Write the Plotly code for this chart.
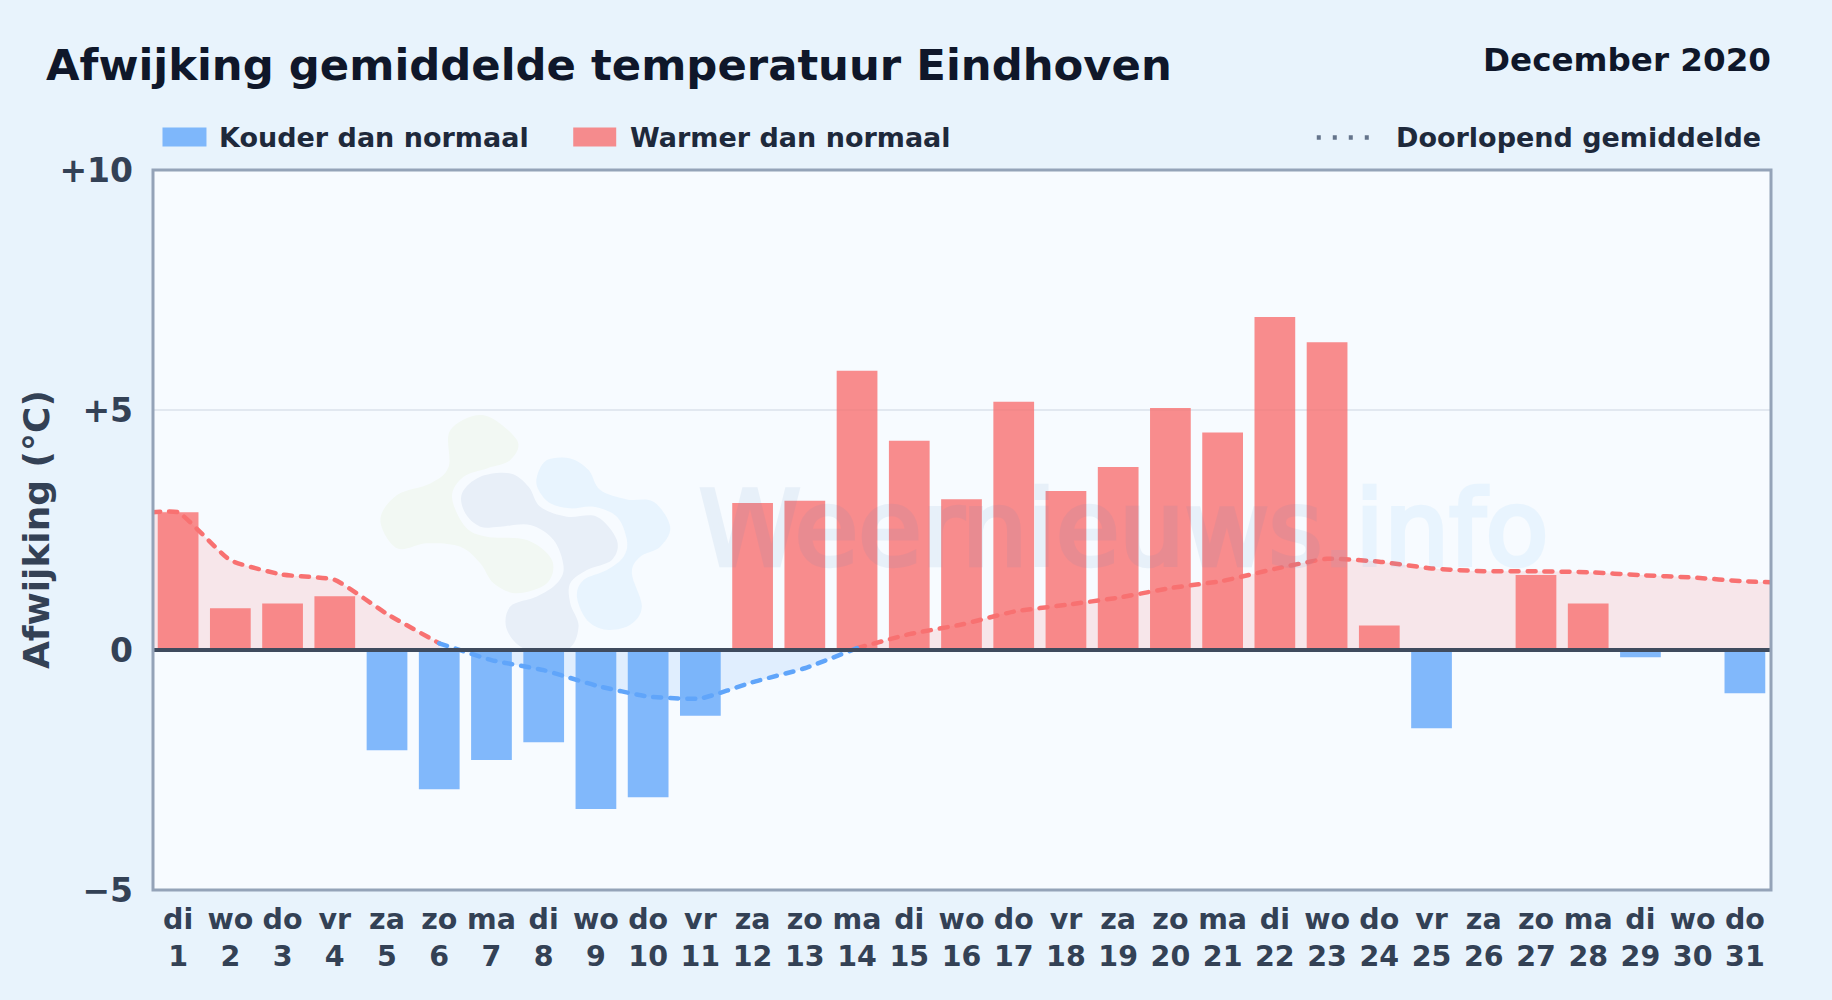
import plotly.graph_objects as go

W, H = 1832, 1000
PLOT_L, PLOT_R, PLOT_T, PLOT_B = 151.5, 1771.5, 169.5, 890.5
BORDER_L = 152.5

days = list(range(1, 32))
weekdays = ["di", "wo", "do", "vr", "za", "zo", "ma", "di", "wo", "do", "vr", "za", "zo", "ma", "di", "wo",
            "do", "vr", "za", "zo", "ma", "di", "wo", "do", "vr", "za", "zo", "ma", "di", "wo", "do"]
deviation = [2.87, 0.87, 0.97, 1.12, -2.09, -2.90, -2.29, -1.92, -3.31, -3.07, -1.37, 3.06, 3.11, 5.82, 4.36, 3.14,
             5.17, 3.31, 3.81, 5.04, 4.53, 6.94, 6.41, 0.51, -1.63, 0.0, 1.56, 0.97, -0.15, 0.0, -0.90]
running_days = [0.5] + days + [31.5]
running_mean = [2.87, 2.87, 1.87, 1.57, 1.46, 0.75, 0.14, -0.21, -0.42, -0.74, -0.97, -1.01, -0.67, -0.38, 0.04, 0.33,
                0.53, 0.80, 0.94, 1.09, 1.29, 1.44, 1.69, 1.90, 1.84, 1.70, 1.64, 1.64, 1.62, 1.56, 1.51, 1.43, 1.41]
warm_spans = [(0, 7), (14, 33)]
cold_spans = [(6, 15)]
y_ticks = [-5, 0, 5, 10]
y_labels = ["\u22125", "0", "+5", "+10"]

FONT = "DejaVu Sans"
RED = "#f87171"
BLUE = "#60a5fa"
INK = "#334155"
LEGEND_INK = "#1e293b"


def px(x):
    return (x - PLOT_L) / (PLOT_R - PLOT_L)


def py(y):
    return (PLOT_B - y) / (PLOT_B - PLOT_T)


def blob(points):
    n = len(points)
    path = f"M{px(points[0][0]):.5f},{py(points[0][1]):.5f}"
    for i in range(n):
        p0, p1, p2, p3 = points[i - 1], points[i], points[(i + 1) % n], points[(i + 2) % n]
        c1 = (p1[0] + (p2[0] - p0[0]) / 6, p1[1] + (p2[1] - p0[1]) / 6)
        c2 = (p2[0] - (p3[0] - p1[0]) / 6, p2[1] - (p3[1] - p1[1]) / 6)
        path += (f" C{px(c1[0]):.5f},{py(c1[1]):.5f} {px(c2[0]):.5f},{py(c2[1]):.5f} "
                 f"{px(p2[0]):.5f},{py(p2[1]):.5f}")
    return path + " Z"


def logo(zoomed):
    return [(340 + a / 3, 380 + b / 3) for a, b in zoomed]


green_blob = logo([(330, 150), (430, 105), (530, 180), (510, 240), (440, 265), (370, 290), (335, 350), (375, 440),
                   (440, 470), (560, 480), (635, 540), (620, 610), (530, 640), (460, 610), (420, 550), (360, 500),
                   (260, 490), (170, 505), (120, 420), (170, 345), (270, 310), (325, 260)])
dark_blob = logo([(365, 340), (420, 290), (510, 280), (565, 320), (600, 380), (680, 410), (770, 410), (830, 480),
                  (815, 540), (740, 570), (690, 610), (690, 670), (715, 740), (680, 810), (560, 810), (500, 750),
                  (510, 680), (590, 650), (650, 610), (670, 560), (640, 480), (570, 435), (480, 440), (420, 440),
                  (375, 400)])
light_blob = logo([(590, 290), (620, 240), (690, 235), (745, 270), (780, 330), (860, 358), (940, 365), (990, 440),
                   (960, 500), (900, 530), (875, 580), (905, 680), (870, 735), (800, 750), (740, 720), (710, 650),
                   (730, 600), (800, 570), (850, 530), (860, 480), (830, 410), (760, 380), (690, 385), (630, 370),
                   (595, 330)])

fig = go.Figure()

fig.add_bar(x=[d for d, v in zip(days, deviation) if v < 0], y=[v for v in deviation if v < 0],
            name="Kouder dan normaal", width=0.78, marker=dict(color="rgba(96,165,250,0.78)", line_width=0),
            showlegend=False)
fig.add_bar(x=[d for d, v in zip(days, deviation) if v >= 0], y=[v for v in deviation if v >= 0],
            name="Warmer dan normaal", width=0.78, marker=dict(color="rgba(248,113,113,0.8)", line_width=0),
            showlegend=False)


def add_running(span, color, fill):
    a, b = span
    fig.add_scatter(x=running_days[a:b], y=running_mean[a:b], mode="lines", fill="tozeroy", fillcolor=fill,
                    line=dict(color=color, width=4.5, dash="8px,9px", shape="spline", smoothing=0.45),
                    name="Doorlopend gemiddelde", showlegend=False, hoverinfo="skip")


for span in warm_spans:
    add_running(span, RED, "rgba(248,113,113,0.15)")
for span in cold_spans:
    add_running(span, BLUE, "rgba(96,165,250,0.15)")

shapes = [
    dict(type="path", xref="paper", yref="paper", layer="below", path=blob(green_blob),
         fillcolor="#f2f8f3", line_width=0),
    dict(type="path", xref="paper", yref="paper", layer="below", path=blob(dark_blob),
         fillcolor="#e8eff8", line_width=0),
    dict(type="path", xref="paper", yref="paper", layer="below", path=blob(light_blob),
         fillcolor="#e8f4fe", line_width=0),
    dict(type="line", xref="x domain", yref="y", x0=0, x1=1, y0=0, y1=0, layer="above",
         line=dict(color="#3f4b5e", width=4)),
    dict(type="rect", xref="x domain", yref="y domain", x0=px(BORDER_L), x1=1, y0=0, y1=1, layer="above",
         line=dict(color="#94a3b8", width=3)),
    dict(type="rect", xref="paper", yref="paper", x0=px(162), x1=px(206), y0=py(127), y1=py(146),
         fillcolor="rgba(96,165,250,0.78)", line_width=0),
    dict(type="rect", xref="paper", yref="paper", x0=px(573), x1=px(616), y0=py(127), y1=py(146),
         fillcolor="rgba(248,113,113,0.8)", line_width=0),
    dict(type="line", xref="paper", yref="paper", x0=px(1317), x1=px(1375), y0=py(137), y1=py(137),
         line=dict(color="#64748b", width=4.5, dash="4px,12px")),
]


def note(x, y, text, size, color, anchor="left"):
    return dict(xref="paper", yref="paper", x=px(x), y=py(y), text=text, showarrow=False, xanchor=anchor,
                yanchor="middle", borderpad=0, font=dict(family=FONT, size=size, color=color, weight="bold"))


annotations = [
    dict(xref="paper", yref="paper", x=px(1124), y=py(529), showarrow=False, xanchor="center", yanchor="middle",
         text='Weernieuws<span style="color:#58b5f5">.info</span>', opacity=0.085,
         font=dict(family=FONT, size=103, color="#4f85bd")),
    note(1773, 59, "December 2020", 32.6, "#0f172a", "right"),
    note(217.7, 137, "Kouder dan normaal", 27, LEGEND_INK),
    note(628.7, 137, "Warmer dan normaal", 27, LEGEND_INK),
    note(1395.2, 137, "Doorlopend gemiddelde", 27, LEGEND_INK),
    dict(note(35.5, 530, "Afwijking (°C)", 36, INK, "center"), textangle=-90),
]

fig.update_layout(
    width=W, height=H, margin=dict(l=PLOT_L, r=W - PLOT_R, t=PLOT_T, b=H - PLOT_B, autoexpand=False),
    paper_bgcolor="#e8f3fc", plot_bgcolor="#f7fbff", barmode="overlay",
    font=dict(family=FONT, color=INK),
    title=dict(text="Afwijking gemiddelde temperatuur Eindhoven", x=46 / W, y=1 - 65 / H, xanchor="left",
               yanchor="middle", font=dict(family=FONT, size=43.35, color="#0f172a", weight="bold")),
    shapes=shapes, annotations=annotations,
    xaxis=dict(range=[0.5, 31.5], tickmode="array", tickvals=days,
               ticktext=[f"{w}<br>{d}" for w, d in zip(weekdays, days)],
               tickfont=dict(family=FONT, size=28.5, color=INK, weight="bold"), tickangle=0, ticklabelstandoff=9,
               showgrid=False, zeroline=False, ticks="", showline=False),
    yaxis=dict(range=[-5, 10], tickmode="array", tickvals=y_ticks, ticktext=y_labels,
               tickfont=dict(family=FONT, size=33, color=INK, weight="bold"), ticklabelstandoff=18,
               showgrid=True, gridcolor="#e2e8f0", gridwidth=2, zeroline=False, ticks="", showline=False),
)

post = """
document.body.style.margin = '0';
document.body.style.overflow = 'hidden';
var s = document.createElement('style');
s.textContent = '.scatterlayer .js-line {stroke-linecap: round;}'
  + '.annotation[data-index="0"] text {stroke:#4f85bd;stroke-width:4.5px;}'
  + '.annotation[data-index="0"] text tspan[style*="fill"] {stroke:#58b5f5;}';
document.head.appendChild(s);
"""
fig.write_html("out.html", post_script=post, config={"displayModeBar": False})
